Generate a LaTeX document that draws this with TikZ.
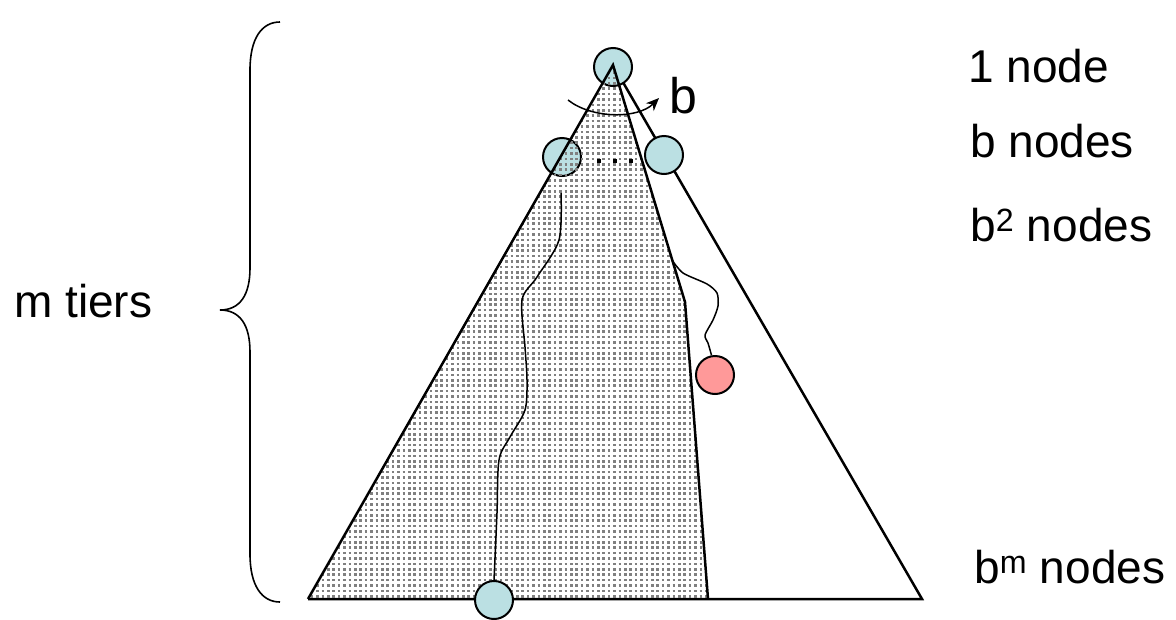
\documentclass[tikz,border=0pt]{standalone}
\usepackage{fontspec}
\setmainfont{Liberation Sans}
\usetikzlibrary{arrows.meta}
\definecolor{nodeblue}{RGB}{187,224,227}
\definecolor{nodepink}{RGB}{255,153,153}
\definecolor{dotgray}{RGB}{128,128,128}
\begin{document}
\begin{tikzpicture}[x=1pt,y=-1pt,
  tnode/.style={circle,draw=black,line width=2pt,fill=nodeblue,minimum size=38pt,inner sep=0pt},
  gnode/.style={tnode,fill=nodepink},
  edge/.style={line width=2.5pt,line join=miter},
  trail/.style={line width=1.5pt},
  dotsq/.style={fill=black,minimum size=4.5pt,inner sep=0pt},
  lbl/.style={font=\fontsize{46}{52}\selectfont,anchor=base west,inner sep=0pt},
  blbl/.style={font=\fontsize{50}{56}\selectfont,anchor=base west,inner sep=0pt}
]
\useasboundingbox (0,0) rectangle (1176,619);
\fill[white] (0,0) rectangle (1176,619);
% triangle geometry
\coordinate (apex) at (613,65);
\coordinate (bl) at (308,599);
\coordinate (br) at (922,599);
\coordinate (kink) at (685,302);
\coordinate (sb) at (708,599);
% outer triangle
\draw[edge] (apex) -- (br) -- (bl);
% upper circles
\node[tnode] (root) at (613,67) {};
\node[tnode] (c1) at (562,157) {};
\node[tnode] (cb) at (664,155) {};
% shaded (explored) region
\begin{scope}
  \clip (apex) -- (bl) -- (sb) -- (kink) -- cycle;
  \foreach \y in {67,72.4,...,602}
    \draw[dotgray,line width=2.6pt,dash pattern=on 2.6pt off 2.8pt] (300,\y) -- (730,\y);
\end{scope}
\draw[edge] (bl) -- (apex) -- (kink) -- (sb);
% dots between children
\node[dotsq] (d1) at (599,161) {};
\node[dotsq] (d2) at (615,161) {};
\node[dotsq] (d3) at (631,161) {};
% branching arrow
\coordinate (bs) at (568,100);
\coordinate (be) at (659,98);
\draw[trail,-{Stealth[length=13pt,width=11pt]}] (bs) .. controls (592,119) and (638,119) .. (be);
\node[blbl] (blab) at (669,113) {b};
% bottom and goal nodes
\node[tnode] (leafl) at (494,600) {};
\node[gnode] (goal) at (715,375) {};
% search trails
\coordinate (ts) at (561,193);
\draw[trail] plot[smooth,tension=0.5] coordinates {(ts) (559,240) (537,277) (522,300) (525,347) (527,380) (525,410) (510,437) (499,460) (497,513) (leafl.north)};
\coordinate (rs) at (672,260);
\draw[trail] plot[smooth,tension=0.45] coordinates {(rs) (683,273) (707,284) (717,293) (718,306) (713,320) (705,335) (708,343) (goal.100)};
% brace
\coordinate (bt) at (280,22);
\coordinate (btip) at (220,310);
\coordinate (bb) at (280,602);
\draw[line width=1.6pt] (bt) .. controls (262,22) and (250,38) .. (250,70) -- (250,268)
  .. controls (250,295) and (240,310) .. (btip)
  .. controls (240,310) and (250,325) .. (250,352) -- (250,554)
  .. controls (250,586) and (262,602) .. (bb);
% labels
\node[lbl] (mt) at (14,317) {m tiers};
\node[lbl] (l1) at (968,82) {1 node};
\node[lbl] (l2) at (970,157) {b nodes};
\node[lbl] (l3) at (970,241) {b\textsuperscript{2} nodes};
\node[lbl] (l4) at (974,583) {b\textsuperscript{m} nodes};
\end{tikzpicture}
\end{document}
